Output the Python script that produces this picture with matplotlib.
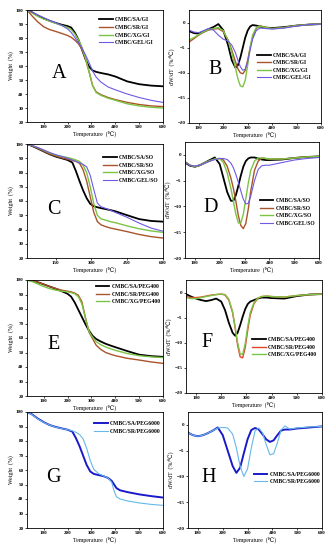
"""Eight-panel TGA / DTG figure for the CMBC film series."""

import matplotlib

matplotlib.use("Agg")
import matplotlib.pyplot as plt

plt.rcParams["font.family"] = ["Liberation Serif", "DejaVu Serif"]
plt.rcParams["font.weight"] = "bold"

FIG_W_PX, FIG_H_PX = 333, 550
DPI = 100

TICK_FS = 3.6
LABEL_FS = 4.2
LEGEND_FS = 4.1
LETTER_FS = 14.5

BLACK = "#000000"
BROWN = "#a9542a"
GREEN = "#7cc443"
PURPLE = "#6f5ae6"
RED = "#e0452a"
DARK_BLUE = "#1a1ac8"
LIGHT_BLUE = "#66b8ea"

# ---------------------------------------------------------------- data
# A: TGA, GI series
T_A = [30, 50, 75, 100, 125, 150, 175, 200, 215, 230, 245, 260, 275, 290,
       305, 320, 340, 370, 400, 450, 500, 550, 600]
A_SA = [100, 98.5, 96, 94, 92.3, 90.8, 89.5, 88.5, 87.5, 84, 79, 72, 65,
        59.5, 56.8, 55.8, 55, 54, 52.5, 49, 47, 46, 45.5]
A_SR = [100, 96, 91.5, 88, 86, 84.7, 83.3, 81.8, 80.5, 78.5, 76, 72, 65,
        56, 46, 41.5, 39.5, 37.5, 36, 34, 32.5, 31.5, 31]
A_XG = [100, 98, 95.5, 93.5, 92, 90.5, 89, 87.5, 86, 83, 79, 73.5, 66, 56,
        46, 41, 39, 37, 35.5, 33, 31.5, 30.5, 30]
A_GEL = [100, 98.5, 96.5, 94.5, 92.5, 91, 89, 86.5, 84, 80.5, 76.5, 73, 68,
         62.5, 56.5, 52, 48.5, 45, 43, 40, 37.5, 35.5, 34]

# B: DTG, GI series
T_B = [60, 80, 100, 120, 140, 160, 180, 200, 220, 235, 250, 260, 270, 280,
       290, 300, 310, 320, 335, 350, 375, 400, 450, 500, 550, 600]
B_SA = [-1.7, -2.1, -2.2, -1.8, -1.3, -0.9, -0.3, -1.5, -4.5, -7.5, -9.0,
        -8.5, -7, -5, -3, -1.6, -0.8, -0.5, -0.6, -0.8, -1.0, -1.1, -0.9,
        -0.6, -0.4, -0.3]
B_SR = [-3.9, -3.2, -2.5, -1.9, -1.5, -1.3, -1.2, -1.8, -3.5, -5.5, -7.8,
        -9.2, -10, -10.2, -9.5, -7.5, -5, -3, -1.2, -0.6, -1.0, -1.2, -1.0,
        -0.6, -0.4, -0.3]
B_XG = [-3.5, -3, -2.4, -1.8, -1.4, -1.2, -1.0, -1.6, -3.5, -6, -9, -11.2,
        -12.6, -12.8, -11.5, -8.5, -5, -2.5, -1.0, -0.7, -1.0, -1.2, -1.0,
        -0.6, -0.4, -0.3]
B_GEL = [-1.5, -1.9, -2.0, -1.6, -1.2, -1.5, -2.5, -3.3, -3.7, -4.5, -6,
         -7.5, -8.8, -9.5, -9.3, -7.8, -5.5, -3.3, -1.6, -1.1, -1.2, -1.3,
         -1.1, -0.7, -0.4, -0.3]

# C: TGA, SO series
T_C = [30, 50, 75, 100, 125, 150, 175, 200, 220, 235, 250, 265, 280, 295,
       310, 325, 340, 360, 380, 400, 450, 500, 550, 600]
C_SA = [100, 98.7, 96.8, 94.8, 92.8, 91.2, 90, 88.8, 87, 81, 74, 67.5, 62,
        58, 56.3, 55.6, 55, 54.3, 53.6, 52.8, 50, 47.3, 46, 45.5]
C_SR = [100, 98.8, 97, 95, 93, 91.6, 90.3, 89.3, 88.5, 87.8, 86.5, 82, 74,
        63, 52, 45.5, 43.3, 42, 41, 40.3, 38.5, 36.5, 35, 34]
C_XG = [100, 99, 97.5, 95.7, 93.8, 92.3, 91.3, 90.5, 89.6, 88.8, 87.8, 85,
        80, 70, 58, 50, 47.5, 46.5, 45.5, 44.8, 42.5, 40.5, 39, 38]
C_GEL = [100, 99, 97.5, 95.8, 94, 92.5, 91.3, 90, 88.8, 87.8, 86.8, 85.7,
         84, 78, 68, 58.5, 56, 54.8, 53.5, 52, 48.5, 44.5, 41, 38.8]

# D: DTG, SO series
T_D = [60, 80, 100, 120, 140, 160, 180, 200, 215, 230, 245, 255, 265, 275,
       285, 295, 305, 315, 325, 340, 355, 370, 385, 400, 450, 500, 550, 600]
D_SA = [-1.5, -2.1, -2.3, -2.0, -1.5, -1.0, -0.5, -1.8, -4.5, -7.2, -8.9,
        -8.9, -7.8, -6, -4, -2.3, -1.2, -0.7, -0.5, -0.5, -0.7, -0.9, -1.0,
        -1.0, -0.9, -0.6, -0.4, -0.3]
D_SR = [-1.3, -2.0, -2.3, -2.0, -1.6, -1.2, -0.8, -0.7, -1.0, -2.2, -4.5,
        -6.5, -9, -11.8, -13.7, -14.3, -13.3, -10.5, -7, -3, -1.2, -0.6,
        -0.7, -0.8, -0.8, -0.6, -0.4, -0.3]
D_XG = [-1.3, -2.0, -2.3, -2.0, -1.5, -1.1, -0.8, -0.7, -1.5, -3.5, -6.5,
        -9, -11.5, -13.2, -13.2, -11.5, -8.5, -5.5, -3, -1.2, -0.6, -0.6,
        -0.7, -0.8, -0.8, -0.6, -0.4, -0.3]
D_GEL = [-1.4, -2.0, -2.2, -2.0, -1.6, -1.2, -0.9, -0.7, -0.7, -0.9, -1.6,
         -2.5, -3.8, -5.3, -7, -8.6, -9.5, -9.4, -8, -5, -2.8, -2.1, -2.0,
         -2.0, -1.5, -1.0, -0.7, -0.5]

# E: TGA, PEG400 series
T_E = [30, 50, 75, 100, 125, 150, 175, 200, 215, 230, 245, 260, 275, 290,
       305, 320, 340, 360, 380, 400, 450, 500, 550, 600]
E_SA = [100, 99.6, 98.5, 97, 95.5, 94, 92.3, 90.5, 88.5, 84.5, 79.5, 74.5,
        69.5, 65, 61.5, 59.3, 57.5, 56, 54.8, 53.7, 51, 48.5, 47.5, 47]
E_SR = [100, 99.6, 98.5, 97, 95.5, 94.2, 93, 92.3, 91.8, 91, 89.5, 85, 74,
        64, 59.5, 55, 52, 50, 48.8, 47.8, 46, 44.8, 43.5, 42.5]
E_XG = [100, 99, 97.3, 95.5, 94, 93, 92.3, 91.8, 91.3, 90.5, 88.5, 83.5,
        73.5, 64.5, 60.5, 57.5, 55.3, 53.8, 52.6, 51.5, 49.3, 47.8, 47, 46.5]

# F: DTG, PEG400 series
T_F = [60, 80, 100, 120, 140, 160, 180, 200, 215, 230, 245, 255, 265, 275,
       285, 295, 305, 315, 330, 345, 360, 380, 400, 450, 500, 550, 600]
F_SA = [-0.3, -0.8, -1.2, -1.5, -1.7, -1.5, -1.2, -1.8, -3.5, -6, -8,
        -8.6, -8, -6.5, -4.8, -3.3, -2.3, -1.8, -1.5, -1.2, -1.0, -1.0,
        -1.1, -1.2, -0.7, -0.4, -0.3]
F_SR = [-0.8, -1.0, -1.0, -0.9, -0.7, -0.5, -0.4, -0.3, -0.5, -1.5, -4,
        -7, -10.5, -12.8, -13, -11, -7.5, -4.5, -2.2, -1.2, -0.8, -0.7,
        -0.8, -0.9, -0.6, -0.4, -0.3]
F_XG = [-1.0, -1.2, -1.2, -1.0, -0.8, -0.6, -0.4, -0.3, -0.4, -1.3, -3.8,
        -6.8, -10, -12.2, -12.3, -10.2, -6.8, -4, -2, -1.1, -0.8, -0.7,
        -0.8, -0.9, -0.6, -0.4, -0.3]

# G: TGA, PEG6000 series
T_G = [30, 50, 75, 100, 125, 150, 175, 200, 220, 235, 250, 265, 280, 295,
       310, 330, 350, 370, 385, 395, 405, 420, 450, 500, 550, 600]
G_SA = [100, 98.5, 95.5, 93, 91, 89.7, 88.7, 87.8, 86.5, 82, 76.5, 70,
        63.5, 59, 57.3, 56.5, 55.8, 54.5, 52.5, 50, 47.5, 46, 44.8, 43.2,
        42, 41]
G_SR = [100, 98.3, 95.3, 92.8, 91, 89.6, 88.6, 87.8, 87, 86, 84.5, 81.5,
        75, 66.5, 60.5, 57.5, 56, 54.5, 51.5, 45.5, 41.5, 40, 38.7, 37.3,
        36.3, 35.6]

# H: DTG, PEG6000 series
T_H = [60, 80, 100, 120, 140, 160, 180, 200, 220, 240, 255, 270, 285, 300,
       315, 330, 345, 360, 375, 390, 405, 420, 435, 450, 470, 500, 550, 600]
H_SA = [-1.5, -2.0, -2.2, -2.0, -1.6, -1.1, -0.5, -2.0, -5, -8, -9.3, -8.3,
        -5.5, -2.8, -1.0, -0.6, -0.9, -1.8, -2.8, -3.3, -3.0, -2.0, -1.1,
        -0.9, -0.9, -0.7, -0.5, -0.3]
H_SR = [-1.5, -2.0, -2.2, -2.0, -1.6, -1.1, -0.6, -0.5, -0.6, -1.8, -4.5,
        -8, -10, -8.5, -4.5, -1.2, -0.6, -1.5, -3.8, -5.8, -5.6, -3.5, -1.0,
        -0.2, -0.8, -0.6, -0.4, -0.3]

TGA_TICKS = [20, 30, 40, 50, 60, 70, 80, 90, 100]
DTG_TICKS = [0, -5, -10, -15, -20]
X_TICKS = [100, 200, 300, 400, 500, 600]
X_TICKS_C = [150, 300, 450, 600]


def px_rect(left, top, right, bottom):
    """Axes rectangle from pixel edges (origin top-left)."""
    return [left / FIG_W_PX, 1 - bottom / FIG_H_PX,
            (right - left) / FIG_W_PX, (bottom - top) / FIG_H_PX]


def draw_panel(fig, rect, temps, series, letter, letter_xy, kind,
               legend_xy, xticks, xlim):
    ax = fig.add_axes(rect)
    for values, label, color, lw in series:
        ax.plot(temps, values, color=color, lw=lw, label=label,
                solid_joinstyle="round")

    if kind == "tga":
        ylim = (20, 100)
        ax.set_yticks(TGA_TICKS)
        ax.set_ylabel("Weight  (%)", fontsize=LABEL_FS, labelpad=1.5)
    else:
        ylim = (-20, 2.5)
        ax.set_yticks(DTG_TICKS)
        ax.set_ylabel("dW/dT  (%/℃)", fontsize=LABEL_FS, labelpad=1.5)
    ax.set_xlim(*xlim)
    ax.set_ylim(*ylim)
    ax.set_xticks(xticks)
    ax.set_xlabel("Temperature  (℃)", fontsize=LABEL_FS, labelpad=0.8)
    ax.tick_params(labelsize=TICK_FS, length=1.5, width=0.5, pad=1)
    for s in ax.spines.values():
        s.set_linewidth(0.6)

    ax.text(letter_xy[0], letter_xy[1], letter, fontsize=LETTER_FS,
            fontweight="normal", ha="center", va="center")

    # legend: first handle starts at legend_xy (data coords, row centre)
    h_px = rect[3] * FIG_H_PX
    fx = (legend_xy[0] - xlim[0]) / (xlim[1] - xlim[0])
    fy = (legend_xy[1] - ylim[0]) / (ylim[1] - ylim[0]) + 3.2 / h_px
    ax.legend(loc="upper left", bbox_to_anchor=(fx, fy), frameon=False,
              fontsize=LEGEND_FS, handlelength=2.4, handletextpad=0.35,
              labelspacing=0.45, borderpad=0, borderaxespad=0)
    return ax


def main():
    fig = plt.figure(figsize=(FIG_W_PX / DPI, FIG_H_PX / DPI), dpi=DPI)
    tga_x = (30, 600)
    dtg_x = (60, 600)

    draw_panel(fig, px_rect(27, 10, 163, 122), T_A, [
        (A_SA, "CMBC/SA/GI", BLACK, 1.3),
        (A_SR, "CMBC/SR/GI", BROWN, 1.0),
        (A_XG, "CMBC/XG/GI", GREEN, 1.0),
        (A_GEL, "CMBC/GEL/GI", PURPLE, 0.8),
    ], "A", (165, 55), "tga", (332, 92.4), X_TICKS, tga_x)

    draw_panel(fig, px_rect(189, 10, 321, 123), T_B, [
        (B_SA, "CMBC/SA/GI", BLACK, 1.3),
        (B_SR, "CMBC/SR/GI", BROWN, 1.0),
        (B_XG, "CMBC/XG/GI", GREEN, 1.0),
        (B_GEL, "CMBC/GEL/GI", PURPLE, 0.8),
    ], "B", (165, -9.3), "dtg", (340, -6.6), X_TICKS, dtg_x)

    draw_panel(fig, px_rect(27, 144, 163, 258), T_C, [
        (C_SA, "CMBC/SA/SO", BLACK, 1.3),
        (C_SR, "CMBC/SR/SO", BROWN, 1.0),
        (C_XG, "CMBC/XG/SO", GREEN, 1.0),
        (C_GEL, "CMBC/GEL/SO", PURPLE, 0.8),
    ], "C", (142, 54), "tga", (350, 90), X_TICKS_C, tga_x)

    draw_panel(fig, px_rect(185, 142, 319, 258), T_D, [
        (D_SA, "CMBC/SA/SO", BLACK, 1.3),
        (D_SR, "CMBC/SR/SO", BROWN, 1.0),
        (D_XG, "CMBC/XG/SO", GREEN, 1.0),
        (D_GEL, "CMBC/GEL/SO", PURPLE, 0.8),
    ], "D", (164, -10.3), "dtg", (361, -9), X_TICKS, dtg_x)

    draw_panel(fig, px_rect(27, 280, 163, 396), T_E, [
        (E_SA, "CMBC/SA/PEG400", BLACK, 1.3),
        (E_SR, "CMBC/SR/PEG400", BROWN, 1.0),
        (E_XG, "CMBC/XG/PEG400", GREEN, 1.0),
    ], "E", (141, 55.8), "tga", (318, 95), X_TICKS, tga_x)

    draw_panel(fig, px_rect(186, 280, 322, 393), T_F, [
        (F_SA, "CMBC/SA/PEG400", BLACK, 1.3),
        (F_SR, "CMBC/SR/PEG400", RED, 1.0),
        (F_XG, "CMBC/XG/PEG400", GREEN, 1.0),
    ], "F", (143, -9.9), "dtg", (322, -9.5), X_TICKS, dtg_x)

    draw_panel(fig, px_rect(27, 412, 163, 528), T_G, [
        (G_SA, "CMBC/SA/PEG6000", DARK_BLUE, 1.4),
        (G_SR, "CMBC/SR/PEG6000", LIGHT_BLUE, 0.8),
    ], "G", (141, 54.6), "tga", (311, 91.3), X_TICKS, tga_x)

    draw_panel(fig, px_rect(188, 412, 322, 528), T_H, [
        (H_SA, "CMBC/SA/PEG6000", DARK_BLUE, 1.4),
        (H_SR, "CMBC/SR/PEG6000", LIGHT_BLUE, 0.8),
    ], "H", (144, -10.2), "dtg", (325, -9.7), X_TICKS, dtg_x)

    fig.savefig("out.png", dpi=DPI, facecolor="white")
    plt.close(fig)


if __name__ == "__main__":
    main()
